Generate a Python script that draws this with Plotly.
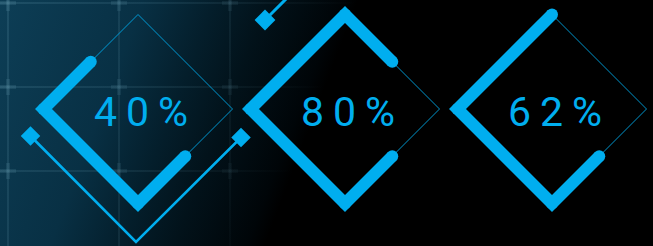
import base64
import numpy as np
import plotly.graph_objects as go

# ---- data ----
values = [40, 80, 62]
labels = [f"{v}%" for v in values]

# ---- layout constants ----
W, H_PX = 653, 246
CX0, DX = 138, 207          # first diamond centre x, spacing
CY = 109                    # diamond centre y
HD = 94.5                   # half diagonal
BLUE = "#00AEEF"
THICK = 12

def gauge_arm(v):
    # arm length (in diamond edges) on the upper side, quantised to quarter edges
    return round(4 * (v - 20) / 40) / 4

fig = go.Figure()

for i, v in enumerate(values):
    cx = CX0 + DX * i
    R = np.array([cx + HD, CY]); T = np.array([cx, CY - HD])
    L = np.array([cx - HD, CY]); B = np.array([cx, CY + HD])
    outline = [R, T, L, B, R]
    fig.add_trace(go.Scatter(x=[p[0] for p in outline], y=[p[1] for p in outline],
                             mode="lines", line=dict(color=BLUE, width=1),
                             opacity=0.85, hoverinfo="skip", showlegend=False))
    a = gauge_arm(v)
    if a <= 1:
        pts = [L + a * (T - L), L]
    else:
        pts = [T + (a - 1) * (R - T), T, L]
    pts += [B, B + 0.5 * (R - B)]
    fig.add_trace(go.Scatter(x=[p[0] for p in pts], y=[p[1] for p in pts],
                             mode="lines+markers",
                             line=dict(color=BLUE, width=THICK),
                             marker=dict(color=BLUE, size=THICK, line=dict(width=0)),
                             hoverinfo="skip", showlegend=False))
    fig.add_annotation(x=cx + 7, y=112, xref="x", yref="y", showarrow=False,
                       text=f'<span style="letter-spacing:9px">{labels[i]}</span>',
                       font=dict(family="Roboto", size=41, color=BLUE, weight=400),
                       xanchor="center", yanchor="middle")

# ---- decorations ----
brk_x = [30.5, 136, 241]
brk_y = [136, 242, 137.5]
fig.add_trace(go.Scatter(x=brk_x, y=brk_y, mode="lines", line=dict(color=BLUE, width=2.5),
                         hoverinfo="skip", showlegend=False))
fig.add_trace(go.Scatter(x=[brk_x[0], brk_x[2]], y=[brk_y[0], brk_y[2]], mode="markers",
                         marker=dict(symbol="diamond", size=15, color=BLUE, line=dict(width=0)),
                         hoverinfo="skip", showlegend=False))
fig.add_trace(go.Scatter(x=[265, 300], y=[20, -15], mode="lines", line=dict(color=BLUE, width=3),
                         hoverinfo="skip", showlegend=False))
fig.add_trace(go.Scatter(x=[265], y=[20], mode="markers",
                         marker=dict(symbol="diamond", size=16, color=BLUE, line=dict(width=0)),
                         hoverinfo="skip", showlegend=False))

# ---- background image (gradient + grid) ----
gx = [8, 119, 230]
gy = [3, 87, 171]
grid = ""
for x in gx:
    grid += f'<line x1="{x}" y1="0" x2="{x}" y2="{H_PX}" stroke="url(#gr)" stroke-width="2"/>'
for y in gy:
    grid += f'<line x1="0" y1="{y}" x2="{W}" y2="{y}" stroke="url(#gr)" stroke-width="2"/>'
for x in gx:
    for y in gy:
        grid += (f'<line x1="{x-8}" y1="{y}" x2="{x+8}" y2="{y}" stroke="url(#gr)" stroke-width="4"/>'
                 f'<line x1="{x}" y1="{y-8}" x2="{x}" y2="{y+8}" stroke="url(#gr)" stroke-width="4"/>')
svg = f'''<svg xmlns="http://www.w3.org/2000/svg" width="{W}" height="{H_PX}" viewBox="0 0 {W} {H_PX}">
<defs>
<linearGradient id="bg" gradientUnits="userSpaceOnUse" x1="0" y1="0" x2="313" y2="119">
<stop offset="0" stop-color="rgb(13,62,86)"/>
<stop offset="0.4" stop-color="rgb(8,48,68)"/>
<stop offset="0.6" stop-color="rgb(4,30,43)"/>
<stop offset="0.75" stop-color="rgb(2,18,26)"/>
<stop offset="0.95" stop-color="rgb(0,5,8)"/>
<stop offset="1" stop-color="rgb(0,0,0)"/>
</linearGradient>
<linearGradient id="gr" gradientUnits="userSpaceOnUse" x1="0" y1="0" x2="313" y2="119">
<stop offset="0" stop-color="rgb(120,175,195)" stop-opacity="0.16"/>
<stop offset="0.6" stop-color="rgb(120,175,195)" stop-opacity="0.1"/>
<stop offset="0.9" stop-color="rgb(120,175,195)" stop-opacity="0.03"/>
<stop offset="1" stop-color="rgb(120,175,195)" stop-opacity="0"/>
</linearGradient>
</defs>
<rect width="{W}" height="{H_PX}" fill="#000"/>
<rect width="{W}" height="{H_PX}" fill="url(#bg)"/>
{grid}
</svg>'''
src = "data:image/svg+xml;base64," + base64.b64encode(svg.encode()).decode()

fig.update_layout(
    width=W, height=H_PX, margin=dict(l=0, r=0, t=0, b=0),
    paper_bgcolor="#000", plot_bgcolor="rgba(0,0,0,0)",
    xaxis=dict(range=[0, W], visible=False, fixedrange=True),
    yaxis=dict(range=[H_PX, 0], visible=False, fixedrange=True),
    images=[dict(source=src, xref="paper", yref="paper", x=0, y=1, sizex=1, sizey=1,
                 xanchor="left", yanchor="top", sizing="stretch", layer="below")],
)
fig.write_html("out.html", config={"displayModeBar": False},
               post_script="document.body.style.margin='0';document.body.style.background='#000';")
